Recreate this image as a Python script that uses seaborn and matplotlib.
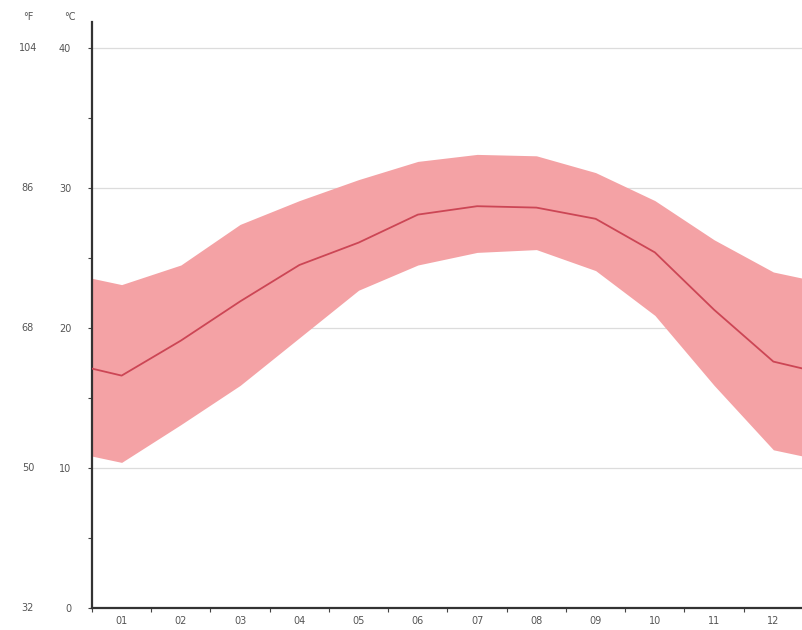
import numpy as np
import pandas as pd
import matplotlib
matplotlib.use("Agg")
import matplotlib.pyplot as plt
import matplotlib.transforms as mtransforms
import seaborn as sns

months = ["01", "02", "03", "04", "05", "06", "07", "08", "09", "10", "11", "12"]
t_mean = [16.6, 19.1, 21.9, 24.5, 26.1, 28.1, 28.7, 28.6, 27.8, 25.4, 21.3, 17.6]
t_max = [23.1, 24.5, 27.4, 29.1, 30.6, 31.9, 32.4, 32.3, 31.1, 29.1, 26.3, 24.0]
t_min = [10.4, 13.1, 15.9, 19.3, 22.7, 24.5, 25.4, 25.6, 24.1, 20.9, 15.9, 11.3]
c_ticks = [0, 10, 20, 30, 40]
f_labels = ["32", "50", "68", "86", "104"]

sns.set_theme(style="white")
plt.rcParams["font.family"] = ["DejaVu Sans"]

fig = plt.figure(figsize=(8.03, 6.30), dpi=100)
ax = fig.add_axes([92 / 803, 22 / 630, 711 / 803, 586 / 630])

# month positions; extend to axis edges by wrapping Dec/Jan
x = np.arange(1, 13, dtype=float)
def wrap(v):
    edge = (v[0] + v[-1]) / 2.0
    return np.concatenate([[edge], v, [edge]])
xx = np.concatenate([[0.5], x, [12.5]])
df = pd.DataFrame({"month": xx,
                   "mean": wrap(np.array(t_mean)),
                   "max": wrap(np.array(t_max)),
                   "min": wrap(np.array(t_min))})

ax.fill_between(df["month"], df["min"], df["max"], color="#f4a2a5", lw=0, zorder=2)
sns.lineplot(data=df, x="month", y="mean", ax=ax, color="#cc4655", lw=1.3, zorder=3)

ax.set_xlim(0.5, 0.5 + 711 / 60.3)
ax.set_ylim(0, 40 * 586 / 560)

for c in c_ticks[1:]:
    ax.axhline(c, color="#dcdcdc", lw=0.9, zorder=1)

# y axis (Celsius)
ax.set_yticks(c_ticks)
ax.set_yticklabels([str(c) for c in c_ticks], fontsize=7, color="#555555")
ax.set_yticks([5, 15, 25, 35], minor=True)
ax.tick_params(axis="y", which="both", direction="out", length=3, width=0.8,
               color="#444444", left=True, pad=12)

# x axis
ax.set_xticks(np.arange(0.5, 13, 1.0))
ax.set_xticklabels([])
ax.set_xticks(x, minor=True)
ax.set_xticklabels(months, minor=True, fontsize=7, color="#555555")
ax.tick_params(axis="x", which="major", direction="out", length=3, width=0.8,
               color="#444444", bottom=True)
ax.tick_params(axis="x", which="minor", length=0, pad=6)

ax.set_xlabel("")
ax.set_ylabel("")
for s in ["top", "right"]:
    ax.spines[s].set_visible(False)
ax.spines["left"].set_color("#333333")
ax.spines["left"].set_linewidth(1.6)
ax.spines["bottom"].set_color("#333333")
ax.spines["bottom"].set_linewidth(1.6)

# Fahrenheit labels
trans = mtransforms.blended_transform_factory(fig.transFigure, ax.transData)
for c, f in zip(c_ticks, f_labels):
    ax.text(28 / 803, c, f, transform=trans, fontsize=7,
            color="#555555", ha="center", va="center", clip_on=False)
fig.text(28 / 803, 1 - 17 / 630, "°F", fontsize=7, color="#555555", ha="center", va="center")
fig.text(70 / 803, 1 - 17 / 630, "°C", fontsize=7, color="#555555", ha="center", va="center")

fig.savefig("out.png", dpi=100)
